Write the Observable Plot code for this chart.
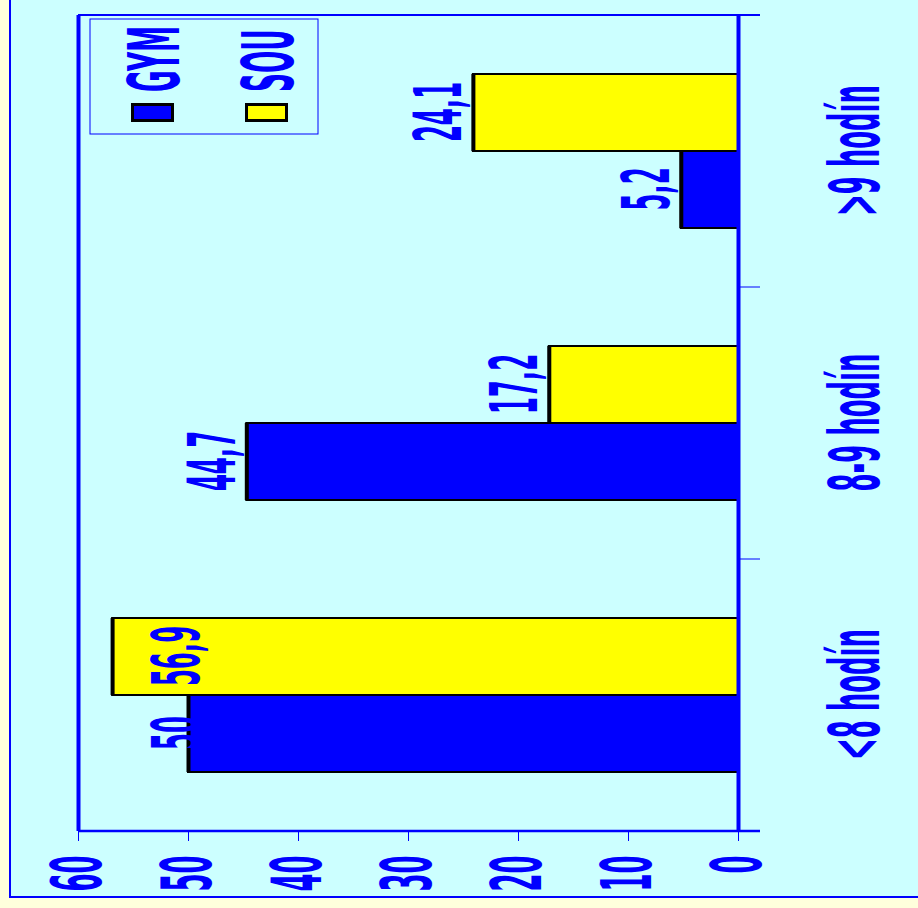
<!DOCTYPE html>
<html>
<head>
<meta charset="utf-8">
<script src="https://cdn.jsdelivr.net/npm/d3@7"></script>
<script src="https://cdn.jsdelivr.net/npm/@observablehq/plot@0.6"></script>
<style>
  html, body { margin: 0; padding: 0; width: 918px; height: 908px; overflow: hidden; background: #FFFFDC; }
  #panel {
    position: absolute; left: 9px; top: -5px; width: 920px; height: 903px;
    box-sizing: border-box; background: #CCFFFF;
    border-left: 2px solid #0000FF; border-bottom: 2px solid #0000FF;
  }
  /* the chart is laid out upright, then turned a quarter turn counter-clockwise */
  #chart {
    position: absolute; left: 0; top: 0; width: 908px; height: 918px;
    transform-origin: 0 0; transform: translate(0px, 908px) rotate(-90deg);
  }
</style>
</head>
<body>
<div id="panel"></div>
<div id="chart"></div>
<script>
const categories = ["<8 hodín", "8-9 hodín", ">9 hodín"];
const series = ["GYM", "SOU"];
const gymValues = [50, 44.7, 5.2];
const souValues = [56.9, 17.2, 24.1];
const yTicks = [0, 10, 20, 30, 40, 50, 60];
const seriesColors = ["#0000FF", "#FFFF00"];

const rows = categories.flatMap((cat, i) => [
  {cat, series: series[0], value: gymValues[i]},
  {cat, series: series[1], value: souValues[i]}
]);

const blue = "#0000FF";
const font = "DejaVu Sans";
const condense = 0.37;     // horizontal squeeze applied to every glyph
const labelCeiling = 48;   // value labels never climb past this level
const fmt = v => String(v).replace(".", ",");

const plot = Plot.plot({
  width: 908,
  height: 918,
  marginLeft: 76,
  marginRight: 15,
  marginTop: 78,
  marginBottom: 180,
  style: {background: "transparent", overflow: "visible", fontFamily: font},
  fx: {domain: categories, padding: 0, axis: null, label: null},
  x: {domain: series, paddingInner: 0, paddingOuter: 0.75, axis: null, label: null},
  y: {domain: [0, 60], label: null},
  color: {domain: series, range: seriesColors},
  marks: [
    Plot.ruleY([60], {stroke: blue, strokeWidth: 4}),
    Plot.barY(rows, {fx: "cat", x: "series", y: "value", fill: "series", stroke: "black", strokeWidth: 2}),
    Plot.tickY(rows, {fx: "cat", x: "series", y: "value", stroke: "black", strokeWidth: 4}),
    Plot.ruleY([0], {stroke: blue, strokeWidth: 4}),
    Plot.axisY(yTicks, {
      label: null, tickSize: 10, tickPadding: 15, color: blue, strokeWidth: 1,
      fontSize: 70, fontWeight: "bold", fontFamily: font
    }),
    Plot.text(rows, {
      fx: "cat", x: "series", y: d => Math.min(d.value, labelCeiling),
      text: d => fmt(d.value), lineAnchor: "bottom", dy: -12,
      fill: blue, fontSize: 66, fontWeight: "bold", fontFamily: font
    }),
    Plot.text(categories, {
      fx: d => d, text: d => d, frameAnchor: "bottom", lineAnchor: "bottom", dy: 140,
      fill: blue, fontSize: 70, fontWeight: "bold", fontFamily: font
    })
  ]
});

document.getElementById("chart").appendChild(plot);

const svg = d3.select(plot.tagName.toLowerCase() === "svg" ? plot : plot.querySelector("svg"));
const fxS = plot.scale("fx");
const yS = plot.scale("y");
const colorS = plot.scale("color");

// frame edges and category separators
const yTop = yS.apply(60), y0 = yS.apply(0), tickEnd = y0 + 22;
const edges = categories.map(c => fxS.apply(c))
  .concat(fxS.apply(categories[categories.length - 1]) + fxS.bandwidth);
const frame = svg.append("g").attr("stroke", blue).attr("fill", "none");
edges.forEach((ex, i) => {
  const outer = i === 0 || i === edges.length - 1;
  frame.append("line")
    .attr("x1", ex).attr("x2", ex)
    .attr("y1", outer ? yTop : y0 + 2).attr("y2", tickEnd)
    .attr("stroke-width", i === 0 ? 2.5 : outer ? 2 : 1);
});

// legend
const legend = svg.append("g").attr("text-anchor", "start");
legend.append("rect")
  .attr("x", 774).attr("y", 90).attr("width", 115).attr("height", 228)
  .attr("fill", "none").attr("stroke", blue).attr("stroke-width", 1);
series.forEach((s, i) => {
  const cy = 152.5 + i * 114;
  legend.append("rect")
    .attr("x", 787.5).attr("y", cy - 20).attr("width", 16).attr("height", 40)
    .attr("fill", colorS.apply(s)).attr("stroke", "black").attr("stroke-width", 3);
  legend.append("text")
    .attr("transform", `translate(816,${cy + 26})`)
    .attr("fill", blue).attr("font-family", font).attr("font-weight", "bold")
    .attr("font-size", 71)
    .text(s);
});

// squeeze all lettering horizontally around its anchor
svg.selectAll("text").each(function () {
  const x = +(this.getAttribute("x") || 0);
  this.removeAttribute("x");
  const t = this.getAttribute("transform") || "";
  this.setAttribute("transform", `${t} translate(${x},0) scale(${condense},1)`);
});
</script>
</body>
</html>
